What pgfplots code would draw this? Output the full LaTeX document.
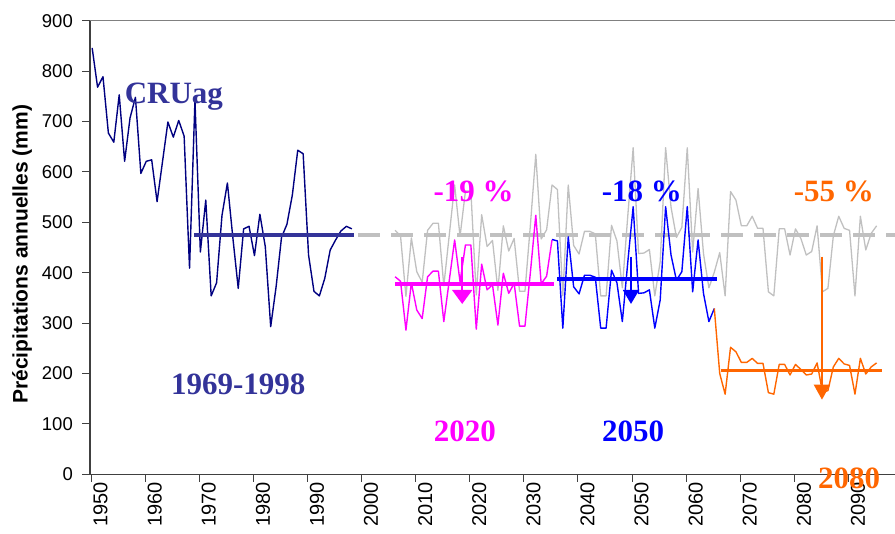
\documentclass[border=0pt]{standalone}
\usepackage{pgfplots}
\pgfplotsset{compat=1.18}
\usepackage{fontspec}
\setmainfont{Liberation Sans}
\newfontfamily\tnr{Liberation Serif}
\usetikzlibrary{arrows.meta}
\definecolor{cru}{HTML}{000080}
\definecolor{crum}{HTML}{333399}
\definecolor{mag}{HTML}{FF00FF}
\definecolor{blu}{HTML}{0000FF}
\definecolor{ora}{HTML}{FF6600}
\definecolor{gry}{HTML}{C0C0C0}
\definecolor{axg}{HTML}{404040}
\pgfplotstableread{
year val
1950 846
1951 768
1952 789
1953 677
1954 659
1955 753
1956 621
1957 707
1958 748
1959 597
1960 621
1961 624
1962 541
1963 620
1964 699
1965 669
1966 702
1967 671
1968 409
1969 742
1970 441
1971 544
1972 354
1973 380
1974 514
1975 578
1976 470
1977 369
1978 487
1979 492
1980 434
1981 516
1982 452
1983 293
1984 372
1985 470
1986 496
1987 554
1988 643
1989 636
1990 435
1991 363
1992 354
1993 389
1994 445
1995 465
1996 483
1997 492
1998 487
}\crudata
\pgfplotstableread{
year val
2006 484
2007 473
2008 353
2009 469
2010 402
2011 381
2012 484
2013 498
2014 498
2015 374
2016 474
2017 574
2018 472
2019 562
2020 562
2021 356
2022 515
2023 452
2024 464
2025 365
2026 493
2027 443
2028 468
2029 363
2030 363
2031 494
2032 635
2033 467
2034 485
2035 574
2036 565
2037 354
2038 574
2039 454
2040 437
2041 482
2042 482
2043 477
2044 354
2045 354
2046 494
2047 463
2048 370
2049 512
2050 648
2051 438
2052 439
2053 446
2054 354
2055 422
2056 648
2057 530
2058 470
2059 490
2060 648
2061 441
2062 567
2063 438
2064 370
2065 401
2066 440
2067 354
2068 561
2069 544
2070 493
2071 493
2072 512
2073 488
2074 488
2075 362
2076 354
2077 487
2078 487
2079 435
2080 487
2081 468
2082 435
2083 442
2084 493
2085 362
2086 369
2087 473
2088 512
2089 488
2090 484
2091 354
2092 512
2093 445
2094 478
2095 493
}\graydata
\pgfplotstableread{
year val
2006 392
2007 383
2008 286
2009 380
2010 326
2011 309
2012 392
2013 403
2014 403
2015 303
2016 384
2017 465
2018 382
2019 455
2020 455
2021 288
2022 417
2023 366
2024 376
2025 296
2026 399
2027 359
2028 379
2029 294
2030 294
2031 400
2032 514
2033 378
2034 393
2035 465
}\magdata
\pgfplotstableread{
year val
2035 466
2036 463
2037 290
2038 471
2039 372
2040 358
2041 395
2042 395
2043 391
2044 290
2045 290
2046 405
2047 380
2048 303
2049 420
2050 531
2051 359
2052 360
2053 366
2054 290
2055 346
2056 531
2057 435
2058 385
2059 402
2060 531
2061 362
2062 465
2063 359
2064 303
2065 329
}\bludata
\pgfplotstableread{
year val
2065 329
2066 200
2067 159
2068 252
2069 243
2070 222
2071 222
2072 230
2073 220
2074 220
2075 162
2076 159
2077 218
2078 218
2079 197
2080 218
2081 208
2082 197
2083 199
2084 221
2085 163
2086 166
2087 213
2088 230
2089 219
2090 216
2091 159
2092 230
2093 199
2094 213
2095 221
}\oradata
\begin{document}
\begin{tikzpicture}
\begin{axis}[
  width=805bp, height=453.6bp, scale only axis,
  xmin=1949.6, xmax=2098.4, ymin=0, ymax=900,
  axis lines*=left,
  axis line style={-, draw=axg, line width=1.3bp},
  tick align=outside, major tick length=7.5bp,
  tick style={draw=axg, line width=1bp},
  xtick={1949.8,1959.8,1969.8,1979.8,1989.8,1999.8,2009.8,2019.8,2029.8,2039.8,2049.8,2059.8,2069.8,2079.8,2089.8},
  xticklabels={1950,1960,1970,1980,1990,2000,2010,2020,2030,2040,2050,2060,2070,2080,2090},
  ytick={0,100,200,300,400,500,600,700,800,900},
  /pgf/number format/assume math mode=true,
  every tick label/.append style={inner sep=0pt},
  xticklabel style={font=\fontsize{20bp}{22bp}\selectfont, rotate=90, anchor=east, yshift=-9.5bp},
  yticklabel style={font=\fontsize{18.5bp}{20bp}\selectfont, anchor=east, xshift=-9.5bp},
  clip=false,
  every axis plot/.append style={line join=round},
]
\coordinate (O) at (rel axis cs:0,0);
\draw[gray, line width=0.9bp] (rel axis cs:0,1) -- (rel axis cs:1,1);
% gray reference scenario
\addplot[gry, line width=1.3bp, mark=none] table[x=year,y=val] {\graydata};
\addplot[gry, line width=3.6bp, dash pattern=on 22bp off 11bp, mark=none] coordinates {(1999.2,475) (2098.4,475)};
% observed CRU
\addplot[cru, line width=1.4bp, mark=none] table[x=year,y=val] {\crudata};
\addplot[crum, line width=3.6bp, mark=none] coordinates {(1968.8,475) (1998.4,475)};
% 2020
\addplot[mag, line width=1.4bp, mark=none] table[x=year,y=val] {\magdata};
\addplot[mag, line width=3.6bp, mark=none] coordinates {(2006,378) (2035.4,378)};
% 2050
\addplot[blu, line width=1.4bp, mark=none] table[x=year,y=val] {\bludata};
\addplot[blu, line width=3.6bp, mark=none] coordinates {(2036,387) (2065.5,387)};
% 2080
\addplot[ora, line width=1.4bp, mark=none] table[x=year,y=val] {\oradata};
\addplot[ora, line width=3.6bp, mark=none] coordinates {(2066.3,206) (2096,206)};
% arrows
\addplot[mag, line width=2bp, -{Triangle[width=20bp,length=14bp]}] coordinates {(2018.4,432) (2018.4,338)};
\addplot[blu, line width=2bp, -{Triangle[width=16bp,length=14bp]}] coordinates {(2049.6,432) (2049.6,338)};
\addplot[ora, line width=2bp, -{Triangle[width=16bp,length=15bp]}] coordinates {(2084.9,432) (2084.9,148)};
% labels
\node[font=\tnr\bfseries\fontsize{31bp}{34bp}\selectfont, text=crum, anchor=base] at (axis cs:1965.1,735) {CRUag};
\node[font=\tnr\bfseries\fontsize{31bp}{34bp}\selectfont, text=crum, anchor=base] at (axis cs:1977.0,159) {1969-1998};
\node[font=\tnr\bfseries\fontsize{31bp}{34bp}\selectfont, text=mag, anchor=base] at (axis cs:2020.5,541) {-19 \%};
\node[font=\tnr\bfseries\fontsize{31bp}{34bp}\selectfont, text=blu, anchor=base] at (axis cs:2051.6,541) {-18 \%};
\node[font=\tnr\bfseries\fontsize{31bp}{34bp}\selectfont, text=ora, anchor=base] at (axis cs:2087.1,541) {-55 \%};
\node[font=\tnr\bfseries\fontsize{31bp}{34bp}\selectfont, text=mag, anchor=base] at (axis cs:2018.9,66) {2020};
\node[font=\tnr\bfseries\fontsize{31bp}{34bp}\selectfont, text=blu, anchor=base] at (axis cs:2050.0,66) {2050};
\node[font=\tnr\bfseries\fontsize{31bp}{34bp}\selectfont, text=ora, anchor=base] at (axis cs:2089.9,-28) {2080};
\end{axis}
\node[rotate=90, font=\bfseries\fontsize{21bp}{23bp}\selectfont] at ([xshift=-68bp, yshift=220bp]O) {Précipitations annuelles (mm)};
\pgfresetboundingbox
\path[use as bounding box] ([shift={(-90bp,-59.7bp)}]O) rectangle ([shift={(805bp,474.3bp)}]O);
\end{tikzpicture}
\end{document}
